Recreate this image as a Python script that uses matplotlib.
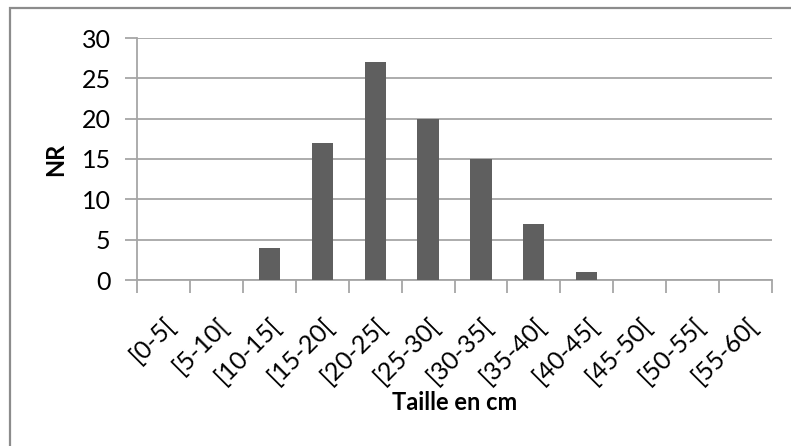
import matplotlib.pyplot as plt
import matplotlib.transforms as mtransforms
from matplotlib.patches import Rectangle

# Chart data
classes = ["[0-5[", "[5-10[", "[10-15[", "[15-20[", "[20-25[", "[25-30[",
           "[30-35[", "[35-40[", "[40-45[", "[45-50[", "[50-55[", "[55-60["]
counts = [0, 0, 4, 17, 27, 20, 15, 7, 1, 0, 0, 0]
y_ticks = [0, 5, 10, 15, 20, 25, 30]

plt.rcParams['font.family'] = ['Lato', 'DejaVu Sans']

fig = plt.figure(figsize=(7.91, 4.46), dpi=100)
W, H = 791, 446

# outer chart frame (cropped on right and bottom like the original)
fig.patches.append(Rectangle((10 / W, -0.1), 1.2, (446 - 8) / H + 0.1,
                             transform=fig.transFigure, fill=False,
                             edgecolor="#8c8c8c", linewidth=1.6))

ax = fig.add_axes([137 / W, 1 - 280 / H, (772 - 137) / W, (280 - 38) / H])

x = range(len(classes))
ax.bar(x, counts, width=0.4, color="#5f5f5f", zorder=3)

ax.set_xlim(-0.5, len(classes) - 0.5)
ax.set_ylim(0, 30)
ax.set_yticks(y_ticks)
ax.yaxis.grid(True, color="#a6a6a6", linewidth=1.3, zorder=0)

# category labels centered, ticks on boundaries
ax.set_xticks(list(x))
ax.set_xticklabels(classes, rotation=45, ha="right", rotation_mode="anchor",
                   fontsize=18)
shift = mtransforms.ScaledTranslation(8 / 100, 0, fig.dpi_scale_trans)
for lbl in ax.get_xticklabels():
    lbl.set_transform(lbl.get_transform() + shift)
ax.set_xticks([i - 0.5 for i in range(len(classes) + 1)], minor=True)
ax.tick_params(axis="x", which="major", length=0, pad=24)
ax.tick_params(axis="x", which="minor", length=9, width=1.3, color="#a6a6a6")
ax.tick_params(axis="y", length=9, width=1.3, color="#a6a6a6",
               labelsize=18, pad=10)

for side in ["top", "right"]:
    ax.spines[side].set_visible(False)
for side in ["left", "bottom"]:
    ax.spines[side].set_color("#a6a6a6")
    ax.spines[side].set_linewidth(1.3)

ax.set_ylabel("NR", fontsize=17, fontweight="bold", labelpad=10)
ax.set_xlabel("Taille en cm", fontsize=17, fontweight="bold", labelpad=2)

fig.savefig("out.png", dpi=100)
